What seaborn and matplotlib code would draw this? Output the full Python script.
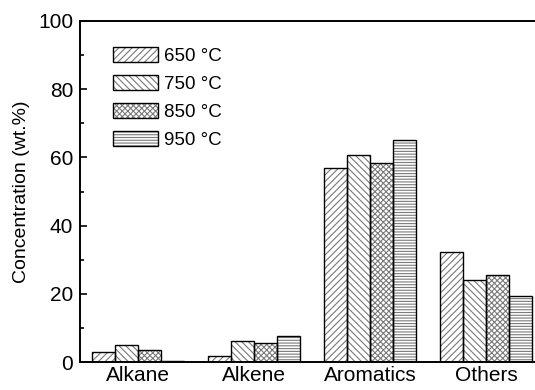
import matplotlib
matplotlib.use("Agg")
import matplotlib.pyplot as plt
import seaborn as sns
import pandas as pd
import numpy as np
from matplotlib.patches import Rectangle
from matplotlib.ticker import MultipleLocator
from matplotlib.legend_handler import HandlerPatch

categories = ["Alkane", "Alkene", "Aromatics", "Others"]
temperatures = ["650 °C", "750 °C", "850 °C", "950 °C"]
v650 = [2.8, 1.7, 57.0, 32.2]
v750 = [4.9, 6.2, 60.7, 24.1]
v850 = [3.4, 5.5, 58.3, 25.5]
v950 = [0.4, 7.7, 65.1, 19.4]

rows = []
for t, vals in zip(temperatures, [v650, v750, v850, v950]):
    for c, v in zip(categories, vals):
        rows.append({"Category": c, "Temperature": t, "Value": v})
df = pd.DataFrame(rows)

sns.set_style("ticks")
plt.rcParams['font.family'] = ['Liberation Sans', 'DejaVu Sans']
plt.rcParams['hatch.linewidth'] = 0.8
plt.rcParams['text.color'] = 'black'
plt.rcParams['axes.labelcolor'] = 'black'
plt.rcParams['xtick.color'] = 'black'
plt.rcParams['ytick.color'] = 'black'

hatches = ["/////", "\\\\\\\\\\", "xxxxxx", "------"]
HATCH_GRAY = "#7a7a7a"

fig = plt.figure(figsize=(5.35, 3.9), dpi=100)
ax = fig.add_axes([80/535, 1-362/390, 464/535, (362-21)/390])

sns.barplot(data=df, x="Category", y="Value", hue="Temperature",
            order=categories, hue_order=temperatures,
            palette=["white"]*4, edgecolor=HATCH_GRAY, linewidth=0,
            width=0.8, errorbar=None, ax=ax, legend=False, gap=0)

bars_by_hue = [ax.patches[i*4:(i+1)*4] for i in range(4)]
handles = []
for h, bars in enumerate(bars_by_hue):
    for b in bars:
        b.set_hatch(hatches[h])
        b.set_edgecolor(HATCH_GRAY)
        b.set_linewidth(0)
        outline = Rectangle(b.get_xy(), b.get_width(), b.get_height(),
                            fill=False, edgecolor="black", linewidth=1.0, zorder=3)
        ax.add_patch(outline)
    handles.append(Rectangle((0, 0), 1, 1, facecolor="white", hatch=hatches[h],
                             edgecolor=HATCH_GRAY, linewidth=0))


class OutlinedHandler(HandlerPatch):
    def create_artists(self, legend, orig_handle, xdescent, ydescent, width, height, fontsize, trans):
        p = Rectangle((-xdescent, -ydescent), width, height, facecolor="white",
                      hatch=orig_handle.get_hatch(), edgecolor=HATCH_GRAY, linewidth=0, transform=trans)
        o = Rectangle((-xdescent, -ydescent), width, height, fill=False,
                      edgecolor="black", linewidth=1.0, transform=trans)
        return [p, o]


ax.legend(handles, temperatures, loc="upper left", frameon=False,
          fontsize=13.5, handlelength=2.4, handleheight=0.9,
          labelspacing=0.52, handletextpad=0.35, borderaxespad=0,
          bbox_to_anchor=(25/464, 1-18/341),
          handler_map={Rectangle: OutlinedHandler()})

ax.set_xlim(-0.5, 3.5)
ax.set_ylim(0, 100)
ax.yaxis.set_major_locator(MultipleLocator(20))
ax.yaxis.set_minor_locator(MultipleLocator(10))
ax.tick_params(axis='y', which='major', direction='in', length=5, width=1.2, labelsize=15, pad=5)
ax.tick_params(axis='y', which='minor', direction='in', length=3, width=1.2)
ax.tick_params(axis='x', which='both', length=0, labelsize=15, pad=3)
ax.set_xlabel("")
ax.set_ylabel("Concentration (wt.%)", fontsize=14, labelpad=6)
for s in ax.spines.values():
    s.set_linewidth(1.4)
    s.set_color("black")

fig.savefig("out.png", dpi=100)
